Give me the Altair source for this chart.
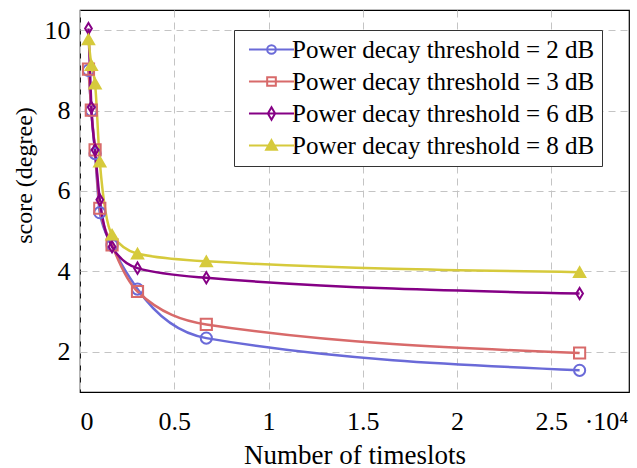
import altair as alt
import pandas as pd

# ---- data ----
timeslots = [450, 600, 800, 1050, 1700, 3050, 6700, 26500]
series_names = [
    "Power decay threshold = 2 dB",
    "Power decay threshold = 3 dB",
    "Power decay threshold = 6 dB",
    "Power decay threshold = 8 dB",
]
score_2db = [9.00, 8.00, 6.93, 5.46, 4.65, 3.56, 2.34, 1.54]
score_3db = [9.03, 8.01, 7.02, 5.57, 4.66, 3.50, 2.68, 1.97]
score_6db = [10.04, 8.08, 7.02, 5.78, 4.61, 4.08, 3.84, 3.45]
score_8db = [9.77, 9.13, 8.67, 6.73, 4.91, 4.44, 4.25, 3.98]
x_ticks = [0, 5000, 10000, 15000, 20000, 25000]
y_ticks = [2, 4, 6, 8, 10]

# ---- styles ----
colors = ["#6a6ad8", "#d86a6a", "#850085", "#d6ca3c"]
fills = ["transparent", "transparent", "transparent", "#d6ca3c"]
marker_shapes = ["circle", "square", "M0,-1L0.6,0L0,1L-0.6,0Z", "triangle-up"]
legend_shapes = [
    "M-2.6,0L2.6,0M0.5,0A0.5,0.5 0 1,1 -0.5,0A0.5,0.5 0 1,1 0.5,0",
    "M-2.6,0L2.6,0M-0.5,-0.5L0.5,-0.5L0.5,0.5L-0.5,0.5Z",
    "M-2.6,0L2.6,0M0,-0.72L0.42,0L0,0.72L-0.42,0Z",
    "M-2.6,0L2.6,0M0,-0.62L0.62,0.48L-0.62,0.48Z",
]
FONT = "Liberation Serif"

rows = []
for name, vals in zip(series_names, [score_2db, score_3db, score_6db, score_8db]):
    for xv, yv in zip(timeslots, vals):
        rows.append({"series": name, "timeslots": xv, "score": yv})
df = pd.DataFrame(rows)

x_enc = alt.X(
    "timeslots:Q",
    scale=alt.Scale(domain=[0, 29120], nice=False, zero=False),
    axis=alt.Axis(
        title="Number of timeslots",
        values=x_ticks + [27900],
        labelExpr="datum.value > 27000 ? '·10⁴' : format(datum.value / 10000, '~g')",
        gridOpacity={"condition": {"test": "datum.value > 27000", "value": 0}, "value": 1},
        labelPadding=16,
        titlePadding=8,
        titleFontSize=27,
    ),
)
y_enc = alt.Y(
    "score:Q",
    scale=alt.Scale(domain=[1.0, 10.5], nice=False, zero=False),
    axis=alt.Axis(
        title="score (degree)",
        values=y_ticks,
        labelPadding=10,
        titlePadding=8,
        titleFontSize=24,
        titleY=165,
    ),
)

lines = alt.Chart(df).mark_line(interpolate="monotone", strokeWidth=2.5).encode(
    x=x_enc,
    y=y_enc,
    color=alt.Color("series:N", scale=alt.Scale(domain=series_names, range=colors), legend=None),
    detail="series:N",
)

points = alt.Chart(df).mark_point(filled=False, strokeWidth=2, size=125, opacity=1).encode(
    x=x_enc,
    y=y_enc,
    color=alt.Color("series:N", scale=alt.Scale(domain=series_names, range=colors), legend=None),
    shape=alt.Shape("series:N", scale=alt.Scale(domain=series_names, range=marker_shapes), legend=None),
    fill=alt.Fill("series:N", scale=alt.Scale(domain=series_names, range=fills), legend=None),
)

legend_layer = alt.Chart(df).transform_filter("false").mark_point(
    filled=False, strokeWidth=2, opacity=1
).encode(
    color=alt.Color(
        "series:N",
        scale=alt.Scale(domain=series_names, range=colors),
        legend=alt.Legend(
            title=None,
            orient="none",
            legendX=154,
            legendY=20,
            fillColor="white",
            strokeColor="#333333",
            padding=7,
            labelFont=FONT,
            labelFontSize=25,
            labelColor="black",
            labelLimit=500,
            labelExpr="datum.label + '\u2009'",
            rowPadding=6,
            symbolSize=300,
            symbolStrokeWidth=2,
            symbolOffset=18,
            labelOffset=8,
        ),
    ),
    shape=alt.Shape("series:N", scale=alt.Scale(domain=series_names, range=legend_shapes)),
    fill=alt.Fill("series:N", scale=alt.Scale(domain=series_names, range=fills)),
)

chart = (
    alt.layer(lines, points, legend_layer)
    .resolve_scale(color="independent", shape="independent", fill="independent")
    .properties(
        width=549,
        height=382,
        autosize=alt.AutoSizeParams(type="none"),
        padding={"left": 80, "top": 10, "right": 8, "bottom": 76},
        background="white",
    )
    .configure_view(stroke="black", strokeWidth=1.2)
    .configure_axis(
        domain=False,
        ticks=False,
        grid=True,
        gridColor="#c4c4c4",
        gridDash=[7, 5],
        gridWidth=1,
        labelFont=FONT,
        labelFontSize=26,
        labelColor="black",
        titleFont=FONT,
        titleFontWeight="normal",
        titleColor="black",
    )
)

chart.save("out.html", embed_options={"renderer": "svg", "actions": False})
